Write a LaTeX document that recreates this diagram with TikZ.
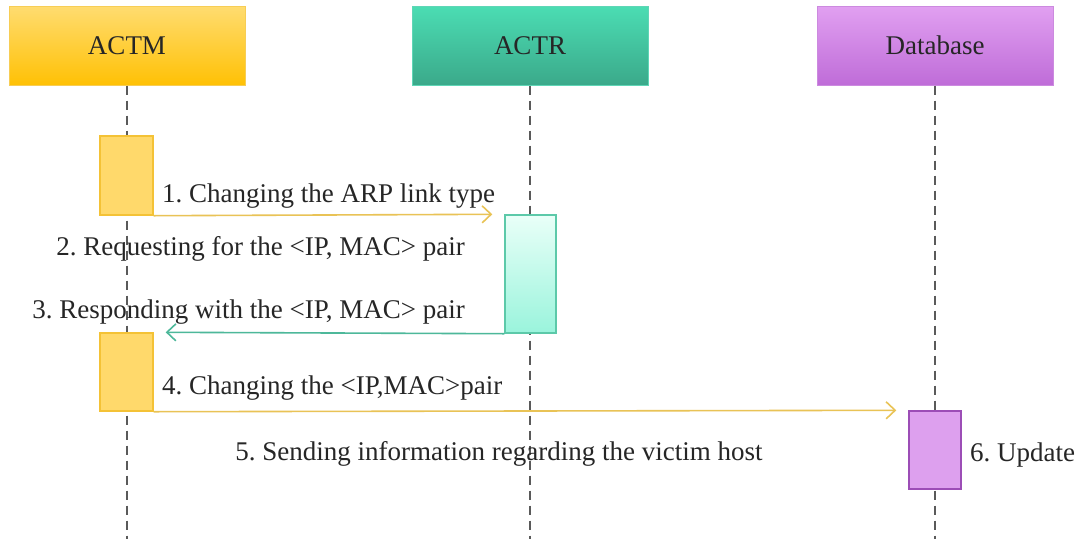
\documentclass[tikz,border=0pt]{standalone}
\usepackage{fontspec}
\setmainfont{Liberation Serif}
\frenchspacing
\usetikzlibrary{arrows.meta}
\definecolor{txt}{HTML}{262626}
\definecolor{lifegray}{HTML}{5A5A5A}
\definecolor{mgold}{HTML}{E9C356}
\definecolor{mteal}{HTML}{4DB89A}
\definecolor{ACTMtop}{HTML}{FFDC70}
\definecolor{ACTMbot}{HTML}{FFC105}
\definecolor{ACTMborder}{HTML}{F7CD55}
\definecolor{ACTRtop}{HTML}{4BDDB3}
\definecolor{ACTRbot}{HTML}{3BA98A}
\definecolor{ACTRborder}{HTML}{5FD6B6}
\definecolor{DBtop}{HTML}{E1A0F1}
\definecolor{DBbot}{HTML}{BF6CD8}
\definecolor{DBborder}{HTML}{CC8ADF}
\definecolor{ACTMact}{HTML}{FFD96B}
\definecolor{ACTMactB}{HTML}{F4C236}
\definecolor{ACTRactT}{HTML}{E9FFF8}
\definecolor{ACTRactD}{HTML}{9AF4DC}
\definecolor{ACTRactB}{HTML}{5CC9A9}
\definecolor{DBact}{HTML}{DDA0EE}
\definecolor{DBactB}{HTML}{9C4DB6}
\tikzset{
  head/.style={draw=#1, line width=1pt, minimum width=236pt, minimum height=79pt,
    inner sep=0pt, font=\fontsize{27}{30}\selectfont, text=txt},
  lifeline/.style={draw=lifegray, line width=2.4pt, dash pattern=on 9pt off 6pt},
  actbox/.style={line width=1.4pt, inner sep=0pt},
  msg/.style={line width=1.6pt, -{Straight Barb[length=9pt,width=17pt,line width=1.6pt]}},
  lbl/.style={font=\fontsize{27}{30}\selectfont, text=txt, inner sep=0pt}
}
\begin{document}
\begin{tikzpicture}[x=1pt, y=-1pt]
\useasboundingbox (0,0) rectangle (1086,539);
\fill[white] (0,0) rectangle (1086,539);

% participants
\node[head=ACTMborder, top color=ACTMtop, bottom color=ACTMbot] (actm) at (127,45.5) {ACTM};
\node[head=ACTRborder, top color=ACTRtop, bottom color=ACTRbot] (actr) at (530,45.5) {ACTR};
\node[head=DBborder, top color=DBtop, bottom color=DBbot] (db) at (935,45.5) {Database};

% lifeline ends
\coordinate (actmEnd) at (127,539);
\coordinate (actrEnd) at (530,539);
\coordinate (dbEnd) at (935,539);
\draw[lifeline] (actm.south) -- (actmEnd);
\draw[lifeline] (actr.south) -- (actrEnd);
\draw[lifeline] (db.south) -- (dbEnd);

% activation bars
\node[actbox, draw=ACTMactB, fill=ACTMact, minimum width=53pt, minimum height=79pt] (a1) at (126.5,175.5) {};
\node[actbox, draw=ACTRactB, top color=ACTRactT, bottom color=ACTRactD, minimum width=51pt, minimum height=118pt] (r1) at (530.5,274) {};
\node[actbox, draw=ACTMactB, fill=ACTMact, minimum width=53pt, minimum height=78pt] (a2) at (126.5,372) {};
\node[actbox, draw=DBactB, fill=DBact, minimum width=52pt, minimum height=78pt] (d1) at (935,450) {};

% messages
\draw[msg, mgold] (a1.south east) -- ([xshift=-12pt]r1.north west);
\draw[msg, mteal] (r1.south west) -- ([xshift=12pt]a2.north east);
\draw[msg, mgold] (a2.south east) -- ([xshift=-12pt]d1.north west);

% labels
\node[lbl, anchor=base west] (l1) at (162,202) {1. Changing the ARP link type};
\node[lbl, anchor=base east] (l2) at (465,255) {2. Requesting for the <IP, MAC> pair};
\node[lbl, anchor=base east] (l3) at (465,318) {3. Responding with the <IP, MAC> pair};
\node[lbl, anchor=base west] (l4) at (162,394) {4. Changing the <IP,MAC>pair};
\node[lbl, anchor=base] (l5) at (499,460) {5. Sending information regarding the victim host};
\node[lbl, anchor=base west] (l6) at (970,461) {6. Update};
\end{tikzpicture}
\end{document}
